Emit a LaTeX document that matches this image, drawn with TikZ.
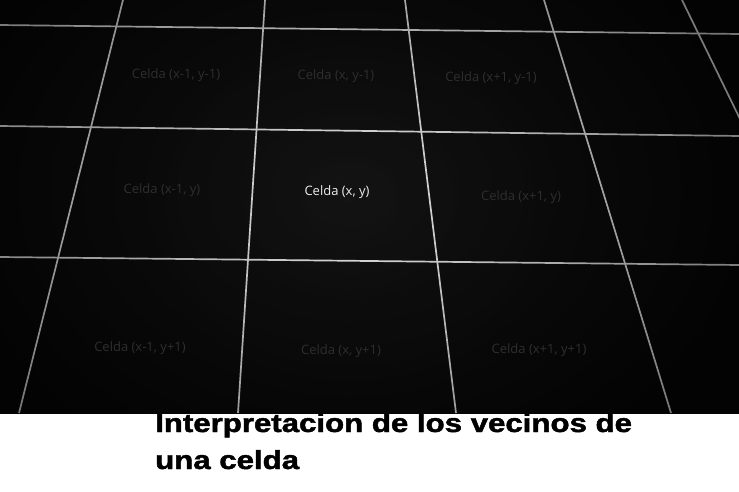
\documentclass[tikz,border=0pt]{standalone}
\usepackage{fontspec}
\setmainfont{Open Sans}
\newfontfamily\capfont[BoldFeatures={FakeBold=1.6}]{Liberation Sans}
\usetikzlibrary{fadings}
\definecolor{bgin}{HTML}{141414}
\definecolor{bgout}{HTML}{070707}
\definecolor{gridc}{HTML}{E6E6E6}
\definecolor{dimtxt}{HTML}{2E2E2E}
\definecolor{brighttxt}{HTML}{ECECEC}
\tikzfading[name=vigfade, inner color=transparent!100, outer color=transparent!50]
\tikzset{
  gridline/.style={draw=gridc, line width=1.7pt},
  celllabel/.style={text=dimtxt, font=\fontsize{13}{15}\selectfont, inner sep=0pt},
  mainlabel/.style={celllabel, text=brighttxt},
  captext/.style={font=\capfont\bfseries\fontsize{26}{30}\selectfont, text=black, inner sep=0pt, anchor=base west}
}
\begin{document}
\begin{tikzpicture}[x=1pt,y=-1pt]
\useasboundingbox (0,0) rectangle (739,492);
\fill[white] (0,0) rectangle (739,492);
\node[captext] (cap1) at (155,432) {\scalebox{1.2}[1]{Interpretacion de los vecinos de}};
\node[captext] (cap2) at (155,469) {\scalebox{1.2}[1]{una celda}};
\begin{scope}
\clip (0,0) rectangle (739,413);
\shade[inner color=bgin, outer color=bgout] (-60,-120) rectangle (760,500);
% horizontal grid lines
\coordinate (h1a) at (0,25);   \coordinate (h1b) at (739,34);
\coordinate (h2a) at (0,126);  \coordinate (h2b) at (739,136);
\coordinate (h3a) at (0,257);  \coordinate (h3b) at (739,265);
% vertical grid lines
\coordinate (v1a) at (123,0);  \coordinate (v1b) at (19,413);
\coordinate (v2a) at (265,0);  \coordinate (v2b) at (238,413);
\coordinate (v3a) at (405,0);  \coordinate (v3b) at (456,413);
\coordinate (v4a) at (544,0);  \coordinate (v4b) at (671,413);
\coordinate (v5a) at (682,0);  \coordinate (v5b) at (760,160);
\draw[gridline] (h1a) -- (h1b);
\draw[gridline] (h2a) -- (h2b);
\draw[gridline] (h3a) -- (h3b);
\draw[gridline] (v1a) -- (v1b);
\draw[gridline] (v2a) -- (v2b);
\draw[gridline] (v3a) -- (v3b);
\draw[gridline] (v4a) -- (v4b);
\draw[gridline] (v5a) -- (v5b);
% vignette
\fill[black, path fading=vigfade] (-80,-160) rectangle (780,560);
% labels
\node[celllabel] (c11) at (176,75)  {Celda (x-1, y-1)};
\node[celllabel] (c21) at (336,76)  {Celda (x, y-1)};
\node[celllabel] (c31) at (491,78)  {Celda (x+1, y-1)};
\node[celllabel] (c12) at (162,190) {Celda (x-1, y)};
\node[mainlabel] (c22) at (337,192) {Celda (x, y)};
\node[celllabel] (c32) at (521,197) {Celda (x+1, y)};
\node[celllabel] (c13) at (140,348) {Celda (x-1, y+1)};
\node[celllabel] (c23) at (341,351) {Celda (x, y+1)};
\node[celllabel] (c33) at (539,350) {Celda (x+1, y+1)};
\end{scope}
\end{tikzpicture}
\end{document}
